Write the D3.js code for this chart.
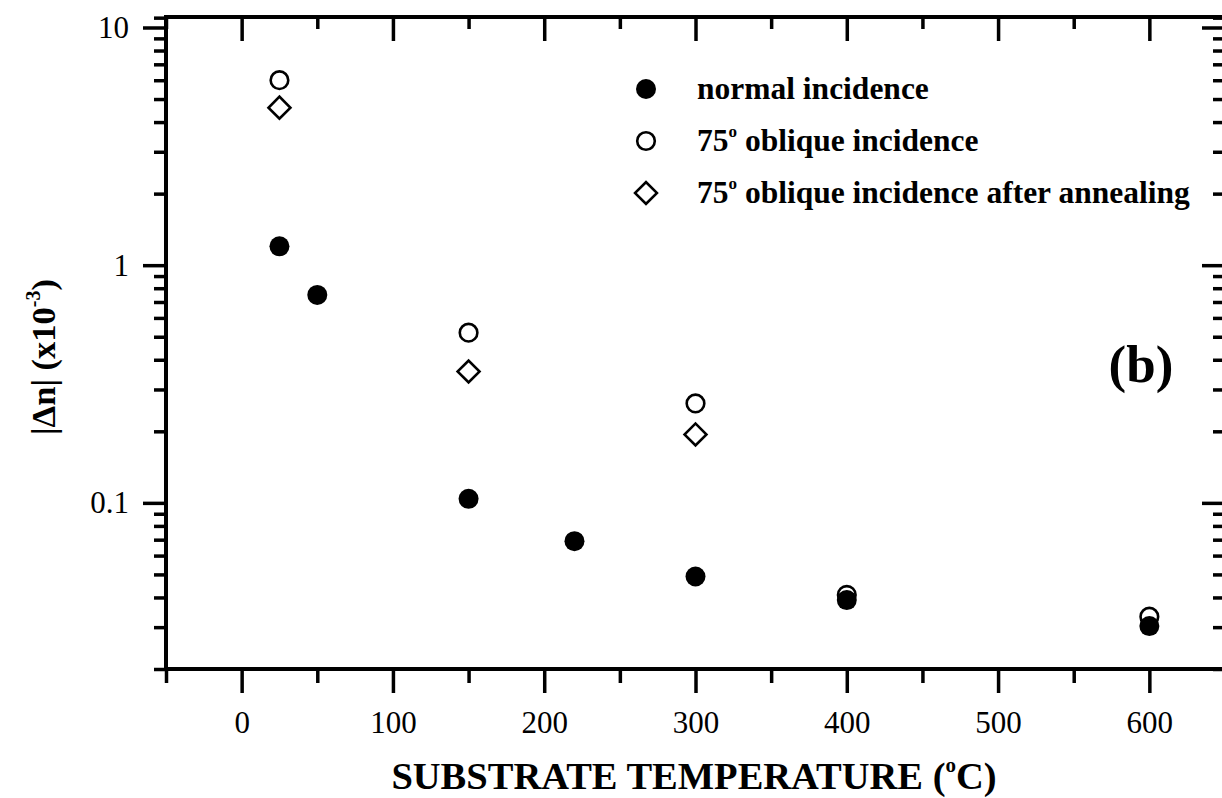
<!DOCTYPE html>
<html>
<head>
<meta charset="utf-8">
<script src="https://cdn.jsdelivr.net/npm/d3@7"></script>
<style>
  body { margin: 0; background: #fff; }
  svg { display: block; font-family: "Liberation Serif", "Times New Roman", serif; }
</style>
</head>
<body>
<div id="chart"></div>
<script>
// Data
const tempNormal = [25, 50, 150, 220, 300, 400, 600];
const dnNormal = [1.2, 0.75, 0.104, 0.069, 0.049, 0.039, 0.0303];

const tempOblique = [25, 150, 300, 400, 600];
const dnOblique = [6.0, 0.52, 0.262, 0.041, 0.0332];

const tempAnnealed = [25, 150, 300];
const dnAnnealed = [4.6, 0.357, 0.194];

const yTickLabels = ["10", "1", "0.1"];
const legendLabels = ["normal incidence", "75", "75"];

const W = 1222, H = 798;
const margin = { top: 17, right: -3, bottom: 129, left: 166 };
const width = W - margin.left - margin.right;
const height = H - margin.top - margin.bottom;

const svg = d3.select("#chart").append("svg")
    .attr("width", W).attr("height", H);

const g = svg.append("g").attr("transform", `translate(${margin.left},${margin.top})`);

const x = d3.scaleLinear().domain([-50, 650]).range([0, width]);
const y = d3.scaleLog().domain([0.02, 11.07]).range([height, 0]);

// tick sets
const xMajor = d3.range(-50, 651, 50).filter(v => v % 100 === 0);
const xMinor = d3.range(-50, 651, 50).filter(v => v % 100 !== 0);
const yMajor = [10, 1, 0.1];
const yMinor = [];
[0.01, 0.1, 1].forEach(dec => { for (let k = 2; k <= 9; k++) yMinor.push(+(dec * k).toPrecision(3)); });
yMinor.push(11);
const yMinorIn = yMinor.filter(v => v >= 0.02 && v <= 11.07);

const axisStroke = 3.5;

function styleAxis(sel) {
    sel.select(".domain").remove();
    sel.selectAll("line").attr("stroke", "#000").attr("stroke-width", axisStroke);
}

// bottom axis (outward)
g.append("g").attr("transform", `translate(0,${height})`)
    .call(d3.axisBottom(x).tickValues(xMajor).tickSize(24).tickPadding(18).tickFormat(d3.format("d")))
    .call(styleAxis)
    .call(a => a.selectAll("text").attr("font-size", 31).attr("fill", "#000")
        .attr("font-family", "Liberation Serif"));
g.append("g").attr("transform", `translate(0,${height})`)
    .call(d3.axisBottom(x).tickValues(xMinor).tickSize(14).tickFormat(""))
    .call(styleAxis);

// top axis (inward)
g.append("g")
    .call(d3.axisTop(x).tickValues(xMajor).tickSize(-24).tickFormat(""))
    .call(styleAxis);
g.append("g")
    .call(d3.axisTop(x).tickValues(xMinor).tickSize(-12).tickFormat(""))
    .call(styleAxis);

// left axis (outward)
g.append("g")
    .call(d3.axisLeft(y).tickValues(yMajor).tickSize(23).tickPadding(14)
        .tickFormat((d, i) => yTickLabels[i]))
    .call(styleAxis)
    .call(a => a.selectAll("text").attr("font-size", 31).attr("fill", "#000")
        .attr("font-family", "Liberation Serif"));
g.append("g")
    .call(d3.axisLeft(y).tickValues(yMinorIn).tickSize(12).tickFormat(""))
    .call(styleAxis);

// right axis (inward)
g.append("g").attr("transform", `translate(${width},0)`)
    .call(d3.axisRight(y).tickValues(yMajor).tickSize(-23).tickFormat(""))
    .call(styleAxis);
g.append("g").attr("transform", `translate(${width},0)`)
    .call(d3.axisRight(y).tickValues(yMinorIn).tickSize(-12).tickFormat(""))
    .call(styleAxis);

// frame
g.append("rect")
    .attr("x", 0).attr("y", 0).attr("width", width).attr("height", height)
    .attr("fill", "none").attr("stroke", "#000").attr("stroke-width", 4);

// markers
const diamond = d3.symbol().type(d3.symbolSquare).size(240);

g.append("g").selectAll("path")
    .data(tempAnnealed.map((t, i) => [t, dnAnnealed[i]]))
    .join("path")
    .attr("d", diamond)
    .attr("transform", d => `translate(${x(d[0])},${y(d[1])}) rotate(45)`)
    .attr("fill", "#fff").attr("stroke", "#000").attr("stroke-width", 2.6);

g.append("g").selectAll("circle")
    .data(tempOblique.map((t, i) => [t, dnOblique[i]]))
    .join("circle")
    .attr("cx", d => x(d[0])).attr("cy", d => y(d[1]))
    .attr("r", 8.8)
    .attr("fill", "#fff").attr("stroke", "#000").attr("stroke-width", 2.6);

g.append("g").selectAll("circle")
    .data(tempNormal.map((t, i) => [t, dnNormal[i]]))
    .join("circle")
    .attr("cx", d => x(d[0])).attr("cy", d => y(d[1]))
    .attr("r", 10)
    .attr("fill", "#000");

// legend
const leg = svg.append("g").attr("transform", "translate(646,89)");
const rowGap = 52;
leg.append("circle").attr("cx", 0).attr("cy", 0).attr("r", 10).attr("fill", "#000");
leg.append("circle").attr("cx", 0).attr("cy", rowGap).attr("r", 8.8)
    .attr("fill", "#fff").attr("stroke", "#000").attr("stroke-width", 2.6);
leg.append("path").attr("d", diamond)
    .attr("transform", `translate(0,${rowGap * 2}) rotate(45)`)
    .attr("fill", "#fff").attr("stroke", "#000").attr("stroke-width", 2.6);

const legText = leg.append("g")
    .attr("font-weight", "bold").attr("font-size", 31.5).attr("fill", "#000");
legText.append("text").attr("x", 51).attr("y", 10).text(legendLabels[0]);
[1, 2].forEach(i => {
    const t = legText.append("text").attr("x", 51).attr("y", rowGap * i + 10);
    t.append("tspan").text(legendLabels[i]);
    t.append("tspan").attr("font-size", 17).attr("dy", -14).text("o");
    t.append("tspan").attr("dy", 14).text(i === 1 ? " oblique incidence" : " oblique incidence after annealing");
});

// panel label
svg.append("text").attr("x", 1141).attr("y", 382)
    .attr("text-anchor", "middle").attr("font-weight", "bold").attr("font-size", 53)
    .text("(b)");

// axis titles
const xt = svg.append("text").attr("x", 694).attr("y", 789)
    .attr("text-anchor", "middle").attr("font-weight", "bold").attr("font-size", 38.5);
xt.append("tspan").text("SUBSTRATE TEMPERATURE (");
xt.append("tspan").attr("font-size", 21).attr("dy", -17).text("o");
xt.append("tspan").attr("dy", 17).text("C)");

const yt = svg.append("text")
    .attr("transform", "translate(55,357) rotate(-90)")
    .attr("text-anchor", "middle").attr("font-weight", "bold").attr("font-size", 34.5);
yt.append("tspan").text("|Δn| (x10");
yt.append("tspan").attr("font-size", 20).attr("dy", -15).text("-3");
yt.append("tspan").attr("dy", 15).text(")");
</script>
</body>
</html>
